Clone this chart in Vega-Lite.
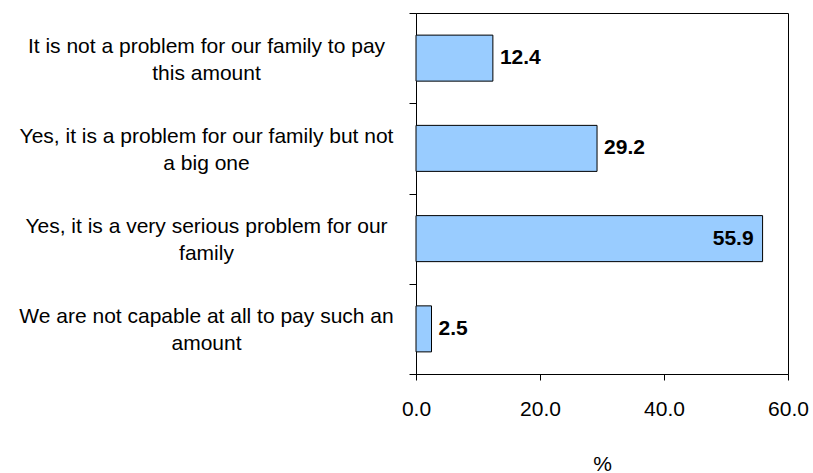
{
  "$schema": "https://vega.github.io/schema/vega-lite/v6.json",
  "autosize": {"type": "none"},
  "width": 372,
  "height": 361,
  "padding": {"left": 416, "top": 13, "right": 25, "bottom": 99},
  "background": "white",
  "config": {
    "font": "Liberation Sans",
    "view": {"stroke": "black", "strokeWidth": 1}
  },
  "data": {
    "values": [
      {"answer": "It is not a problem for our family to pay|this amount", "value": 12.4},
      {"answer": "Yes, it is a problem for our family but not|a big one", "value": 29.2},
      {"answer": "Yes, it is a very serious problem for our|family", "value": 55.9},
      {"answer": "We are not capable at all to pay such an|amount", "value": 2.5}
    ]
  },
  "encoding": {
    "y": {
      "field": "answer",
      "type": "nominal",
      "sort": null,
      "scale": {"paddingInner": 0, "paddingOuter": 0},
      "axis": {
        "title": null,
        "domainColor": "black",
        "tickColor": "black",
        "tickSize": 7,
        "tickBand": "extent",
        "labelAlign": "center",
        "labelBaseline": "middle",
        "labelPadding": 203,
        "labelOffset": -12,
        "labelFontSize": 21,
        "labelColor": "black",
        "labelLineHeight": 27,
        "labelLimit": 500,
        "labelExpr": "split(datum.label, '|')"
      }
    },
    "x": {
      "field": "value",
      "type": "quantitative",
      "scale": {"domain": [0, 60], "nice": false},
      "axis": {
        "values": [0, 20, 40, 60],
        "format": ".1f",
        "grid": false,
        "domainColor": "black",
        "tickColor": "black",
        "tickSize": 6,
        "labelFontSize": 21,
        "labelColor": "black",
        "labelPadding": 18,
        "labelFlush": false,
        "title": "%",
        "titleFontSize": 21,
        "titleFontWeight": "normal",
        "titleColor": "black",
        "titlePadding": 34
      }
    }
  },
  "layer": [
    {
      "mark": {"type": "bar", "height": {"band": 0.51}, "fill": "#99CCFF", "stroke": "black", "strokeWidth": 1}
    },
    {
      "transform": [{"filter": "datum.value < 50"}],
      "mark": {"type": "text", "align": "left", "baseline": "middle", "dx": 7, "fontSize": 21, "fontWeight": "bold", "color": "black"},
      "encoding": {"text": {"field": "value", "type": "quantitative", "format": ".1f"}}
    },
    {
      "transform": [{"filter": "datum.value >= 50"}],
      "mark": {"type": "text", "align": "right", "baseline": "middle", "dx": -9, "fontSize": 21, "fontWeight": "bold", "color": "black"},
      "encoding": {"text": {"field": "value", "type": "quantitative", "format": ".1f"}}
    }
  ]
}
